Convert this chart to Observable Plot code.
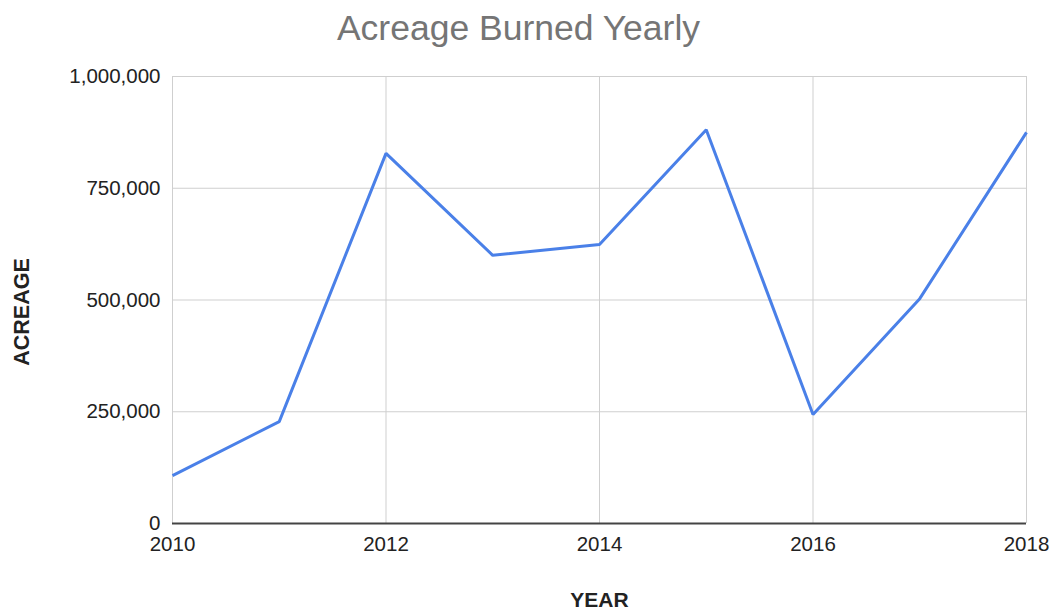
<!DOCTYPE html>
<html>
<head>
<meta charset="utf-8">
<script src="https://cdn.jsdelivr.net/npm/d3@7"></script>
<script src="https://cdn.jsdelivr.net/npm/@observablehq/plot@0.6"></script>
<style>
  html, body { margin: 0; padding: 0; background: #fff; }
  #chart svg { display: block; }
</style>
</head>
<body>
<div id="chart"></div>
<script>
const title = "Acreage Burned Yearly";
const xLabel = "YEAR";
const yLabel = "ACREAGE";
const years = [2010, 2011, 2012, 2013, 2014, 2015, 2016, 2017, 2018];
const acreage = [107000, 228000, 828000, 600000, 624000, 881000, 244000, 503000, 875000];
const xTicks = [2010, 2012, 2014, 2016, 2018];
const yTicks = [0, 250000, 500000, 750000, 1000000];

const data = years.map((y, i) => ({year: y, acres: acreage[i]}));
const font = "'Liberation Sans', Arial, Helvetica, sans-serif";

const chart = Plot.plot({
  width: 1053,
  height: 613,
  marginLeft: 172,
  marginRight: 27,
  marginTop: 76,
  marginBottom: 90,
  style: {fontFamily: font, fontSize: "20.5px", color: "#222", background: "#fff"},
  x: {domain: [2010, 2018], ticks: xTicks, tickFormat: d => String(d), label: null},
  y: {domain: [0, 1000000], ticks: yTicks, tickFormat: d3.format(","), label: null},
  marks: [
    Plot.gridX(xTicks, {stroke: "#cfcfcf", strokeOpacity: 1, strokeWidth: 1}),
    Plot.gridY(yTicks.slice(1), {stroke: "#cfcfcf", strokeOpacity: 1, strokeWidth: 1}),
    Plot.axisX({ticks: xTicks, tickSize: 0, tickPadding: 13, tickFormat: d => String(d), label: null, fill: "#222"}),
    Plot.axisY({ticks: yTicks, tickSize: 0, tickPadding: 12, tickFormat: d3.format(","), label: null, fill: "#222"}),
    Plot.ruleY([0], {stroke: "#444", strokeWidth: 2}),
    Plot.line(data, {x: "year", y: "acres", stroke: "#4a80e8", strokeWidth: 3, strokeLinejoin: "miter", strokeLinecap: "butt"}),
    Plot.text([title], {text: d => d, frameAnchor: "top", lineAnchor: "middle", dx: -81, dy: -48, fontSize: 35.5, fill: "#757575"}),
    Plot.text([xLabel], {text: d => d, frameAnchor: "bottom", lineAnchor: "middle", dy: 77, fontSize: 21, fontWeight: "bold", fill: "#222"}),
    Plot.text([yLabel], {text: d => d, frameAnchor: "left", textAnchor: "middle", lineAnchor: "middle", dx: -150, dy: 12, rotate: -90, fontSize: 21.5, fontWeight: "bold", fill: "#222"})
  ]
});
document.getElementById("chart").appendChild(chart);
</script>
</body>
</html>
